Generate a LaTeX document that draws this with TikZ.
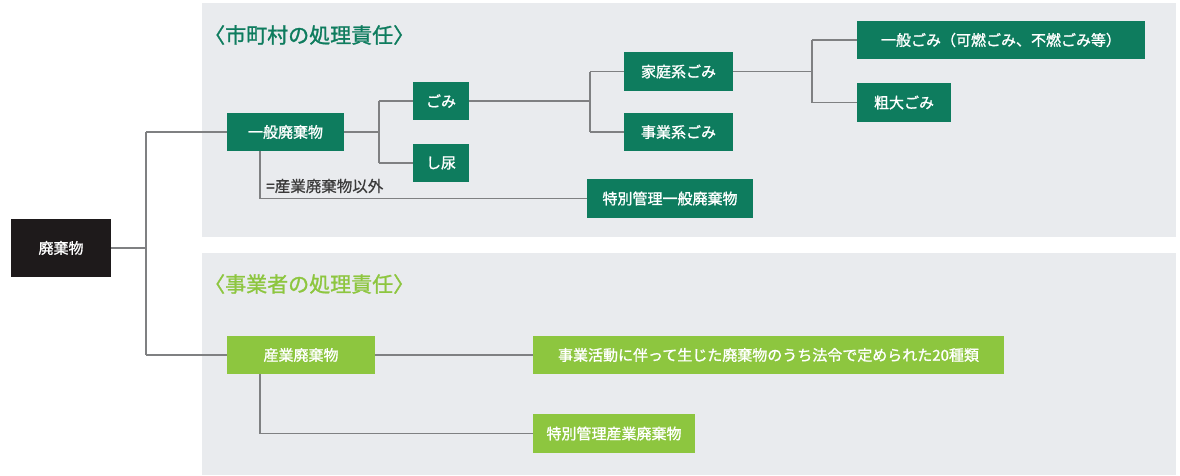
\documentclass[tikz,border=0pt]{standalone}
\usepackage{fontspec}
\setmainfont{Noto Sans CJK JP}
\newfontfamily\boldjp{Noto Sans CJK JP}[FakeBold=1.2]
\newfontfamily\semijp{Noto Sans CJK JP}[FakeBold=0.6]
\definecolor{dkgreen}{HTML}{0E7C5E}
\definecolor{ltgreen}{HTML}{8DC63F}
\definecolor{panelbg}{HTML}{E9EBEE}
\definecolor{blackbox}{HTML}{1E1A1B}
\definecolor{linegray}{HTML}{7F8082}
\definecolor{labelgray}{HTML}{3A3A3A}
\tikzset{
  box/.style={rectangle, inner sep=0pt, text=white, font=\boldjp\fontsize{15}{17}\selectfont},
  gbox/.style={box, fill=dkgreen},
  lbox/.style={box, fill=ltgreen},
  kbox/.style={box, fill=blackbox},
  conn/.style={draw=linegray, line width=1.4pt},
  paneltitle/.style={anchor=west, inner sep=0pt, font=\boldjp\fontsize{21}{23}\selectfont},
}
\begin{document}
\begin{tikzpicture}[x=1pt, y=-1pt]
\useasboundingbox (0,0) rectangle (1180,475);
\fill[white] (0,0) rectangle (1180,475);
% panels
\fill[panelbg] (202,3) rectangle (1176,237);
\fill[panelbg] (202,253) rectangle (1176,475);
\node[paneltitle, text=dkgreen] (title1) at (204,35) {〈市町村の処理責任〉};
\node[paneltitle, text=ltgreen] (title2) at (204,284) {〈事業者の処理責任〉};

% nodes
\node[kbox, minimum width=100pt, minimum height=58pt] (haiki) at (61,248) {廃棄物};
\node[gbox, minimum width=117pt, minimum height=38pt] (ippan) at (285.5,132) {一般廃棄物};
\node[gbox, minimum width=56pt, minimum height=38pt] (gomi) at (441,101) {ごみ};
\node[gbox, minimum width=56pt, minimum height=38pt] (shinyo) at (441,163) {し尿};
\node[gbox, minimum width=109pt, minimum height=39pt] (katei) at (678.5,71.5) {家庭系ごみ};
\node[gbox, minimum width=109pt, minimum height=38pt] (jigyo) at (678.5,132) {事業系ごみ};
\node[gbox, minimum width=288pt, minimum height=38pt] (ippangomi) at (1001,40) {一般ごみ（可燃ごみ、不燃ごみ等）};
\node[gbox, minimum width=94pt, minimum height=39pt] (sodai) at (904,102.5) {粗大ごみ};
\node[gbox, minimum width=166pt, minimum height=39pt] (toku1) at (670,198.5) {特別管理一般廃棄物};
\node[anchor=west, inner sep=0pt, text=labelgray, font=\semijp\fontsize{15.5}{17}\selectfont] (lbl) at (266,186) {=産業廃棄物以外};

\node[lbox, minimum width=148pt, minimum height=38pt] (sangyo) at (301,355) {産業廃棄物};
\node[lbox, minimum width=471pt, minimum height=38pt] (katsudo) at (768.5,355) {事業活動に伴って生じた廃棄物のうち法令で定められた20種類};
\node[lbox, minimum width=162pt, minimum height=39pt] (toku2) at (614,433.5) {特別管理産業廃棄物};

% branch coordinates
\coordinate (trunk) at (146,0);
\coordinate (b1) at (379,0);
\coordinate (b2) at (590,0);
\coordinate (b3) at (812,0);
\coordinate (t1) at (260,0);

% connectors
\draw[conn] (haiki.east) -- (haiki.east -| trunk);
\draw[conn] (trunk |- ippan) -- (trunk |- sangyo);
\draw[conn] (trunk |- ippan) -- (ippan.west);
\draw[conn] (trunk |- sangyo) -- (sangyo.west);

\draw[conn] (ippan.east) -- (ippan.east -| b1);
\draw[conn] (b1 |- gomi) -- (b1 |- shinyo);
\draw[conn] (b1 |- gomi) -- (gomi.west);
\draw[conn] (b1 |- shinyo) -- (shinyo.west);

\draw[conn] (gomi.east) -- (gomi.east -| b2);
\draw[conn] (b2 |- katei) -- (b2 |- jigyo);
\draw[conn] (b2 |- katei) -- (katei.west);
\draw[conn] (b2 |- jigyo) -- (jigyo.west);

\draw[conn] (katei.east) -- (katei.east -| b3);
\draw[conn] (b3 |- ippangomi) -- (b3 |- sodai);
\draw[conn] (b3 |- ippangomi) -- (ippangomi.west);
\draw[conn] (b3 |- sodai) -- (sodai.west);

\draw[conn] (t1 |- ippan.south) |- (toku1.west);

\draw[conn] (sangyo.east) -- (katsudo.west);
\draw[conn] (t1 |- sangyo.south) |- (toku2.west);
\end{tikzpicture}
\end{document}
